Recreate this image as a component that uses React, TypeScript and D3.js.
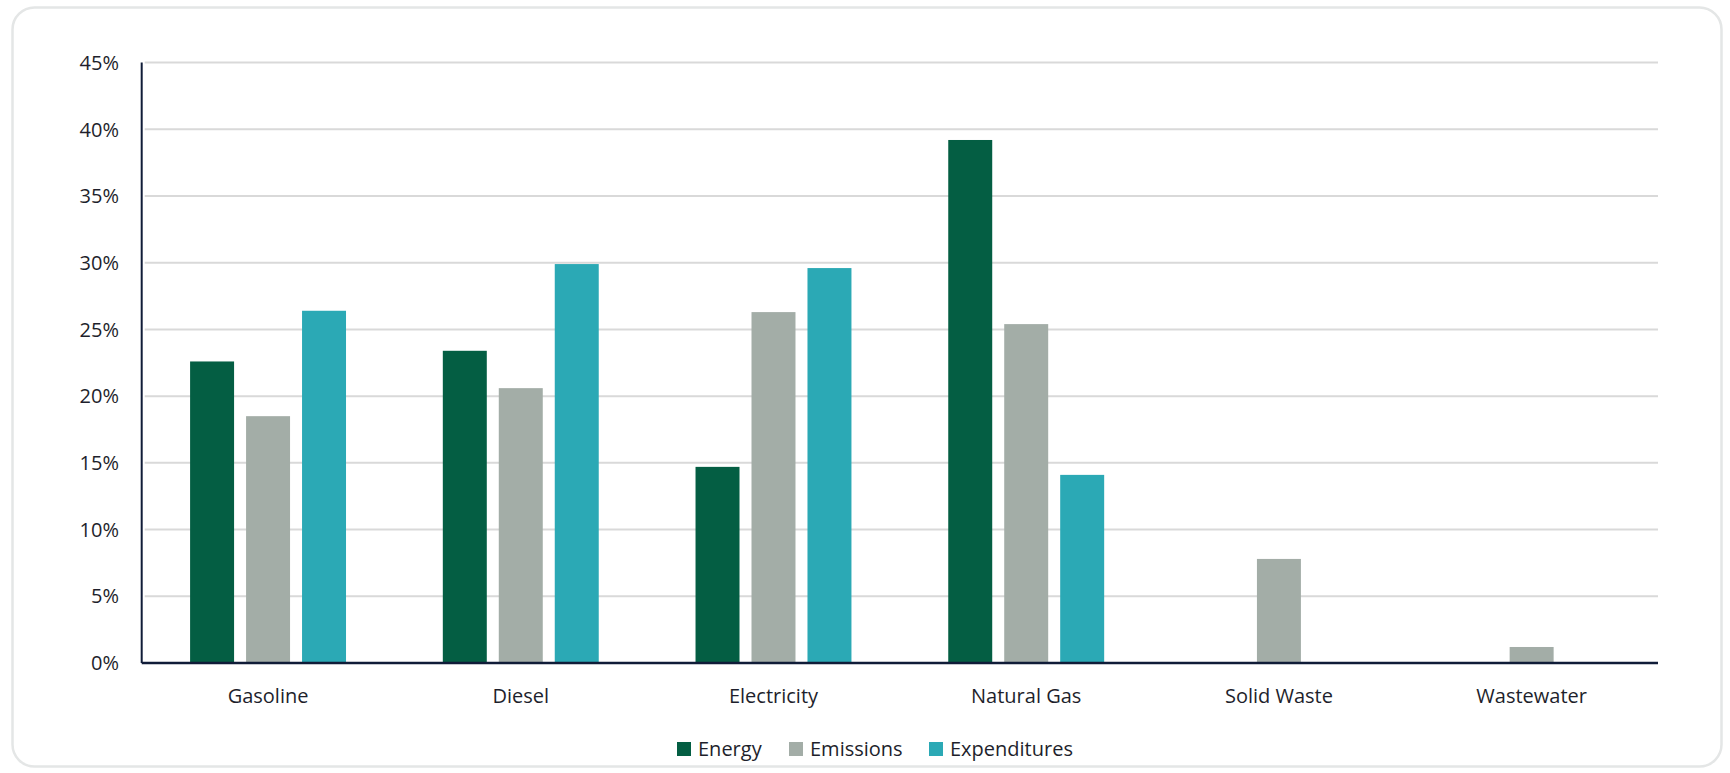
import React from "react";
import * as d3 from "d3";

const categories = ["Gasoline", "Diesel", "Electricity", "Natural Gas", "Solid Waste", "Wastewater"];
const seriesNames = ["Energy", "Emissions", "Expenditures"];
const energy = [22.6, 23.4, 14.7, 39.2, 0, 0];
const emissions = [18.5, 20.6, 26.3, 25.4, 7.8, 1.2];
const expenditures = [26.4, 29.9, 29.6, 14.1, 0, 0];
const yTicks = [0, 5, 10, 15, 20, 25, 30, 35, 40, 45];
const colors = ["#045e43", "#a3ada7", "#2ba9b5"];

const W = 1730;
const H = 773;
const left = 141.7;
const right = 1658;
const top = 62.6;
const bottom = 663;
const FONT = "'Open Sans', 'DejaVu Sans', sans-serif";
const TEXT = "#1e1f2c";
const AXIS = "#101c38";

export default function App() {
  const series = [energy, emissions, expenditures];
  const x0 = d3.scaleBand<string>().domain(categories).range([left, right]).paddingInner(0.383).paddingOuter(0.1915);
  const x1 = d3.scaleBand<string>().domain(seriesNames).range([0, x0.bandwidth()]).paddingInner(0.2143);
  const y = d3.scaleLinear().domain([0, 45]).range([bottom, top]);

  const legendX = [677, 789, 929];

  return (
    <svg width={W} height={H} style={{ position: "absolute", left: 0, top: 0, background: "#fff" }}>
      <rect x={12.5} y={7.5} width={1709} height={759} rx={22} ry={22} fill="#fff" stroke="#e4e6e6" strokeWidth={2.5} />
      {yTicks.map((t) => (
        <g key={t}>
          {t > 0 && <line x1={left + 3} x2={right} y1={y(t)} y2={y(t)} stroke="#d9d9d9" strokeWidth={2} />}
          <text x={119} y={y(t)} dy="0.36em" textAnchor="end" fontFamily={FONT} fontSize={20} fill={TEXT}>
            {t}%
          </text>
        </g>
      ))}
      {categories.map((c, i) => (
        <g key={c} transform={`translate(${x0(c)},0)`}>
          {seriesNames.map((s, j) => {
            const v = series[j][i];
            if (!v) return null;
            return <rect key={s} x={x1(s)} y={y(v)} width={x1.bandwidth()} height={y(0) - y(v)} fill={colors[j]} />;
          })}
          <text x={x0.bandwidth() / 2} y={702.5} textAnchor="middle" fontFamily={FONT} fontSize={20} fill={TEXT}>
            {c}
          </text>
        </g>
      ))}
      <line x1={left} x2={left} y1={top} y2={bottom} stroke={AXIS} strokeWidth={2} />
      <line x1={left} x2={right} y1={bottom} y2={bottom} stroke={AXIS} strokeWidth={2.5} />
      {seriesNames.map((s, j) => (
        <g key={s}>
          <rect x={legendX[j]} y={742} width={14} height={14} fill={colors[j]} />
          <text x={legendX[j] + 21} y={756} fontFamily={FONT} fontSize={20} fill={TEXT}>
            {s}
          </text>
        </g>
      ))}
    </svg>
  );
}
